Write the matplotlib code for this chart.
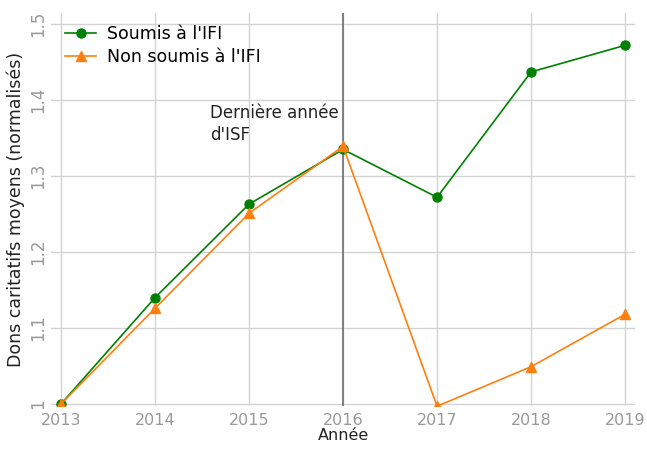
import matplotlib
matplotlib.use("Agg")
import matplotlib.pyplot as plt

years = [2013, 2014, 2015, 2016, 2017, 2018, 2019]
ifi = [1.0, 1.14, 1.263, 1.335, 1.272, 1.437, 1.472]
non_ifi = [1.0, 1.126, 1.251, 1.339, 0.997, 1.049, 1.118]
yticks = [1.0, 1.1, 1.2, 1.3, 1.4, 1.5]
ytick_labels = ["1", "1.1", "1.2", "1.3", "1.4", "1.5"]

fig = plt.figure(figsize=(6.47, 4.5), dpi=100)
ax = fig.add_axes([0.079, 0.098, 0.9025, 0.873])

ax.plot(years, ifi, color="green", marker="o", markersize=6.5, linewidth=1.2,
        label="Soumis à l'IFI", zorder=3)
ax.plot(years, non_ifi, color="#ff7f0e", marker="^", markersize=7, linewidth=1.2,
        label="Non soumis à l'IFI", zorder=3)

# last year of the wealth tax
ax.axvline(2016, color="#777777", linewidth=1.3, zorder=2)
ax.text(2014.585, 1.395, "Dernière année\nd'ISF", va="top", ha="left",
        fontsize=12, color="#222222", linespacing=1.3)

ax.set_xlim(2012.894, 2019.106)
ax.set_ylim(0.9974, 1.5145)
ax.set_xticks(years)
ax.set_yticks(yticks)
ax.set_yticklabels(ytick_labels, rotation=90, va="center")
ax.grid(True, color="#d3d3d3", linewidth=1)
ax.set_axisbelow(True)
for s in ax.spines.values():
    s.set_visible(False)
ax.tick_params(length=0, colors="#999999", labelsize=12)
ax.tick_params(axis="x", labelsize=11.5, pad=5)
ax.tick_params(axis="y", pad=3)

# the reference clips this label at the bottom edge; kept just inside here
ax.set_xlabel("Année", fontsize=11.5, color="#222222", labelpad=0)
ax.set_ylabel("Dons caritatifs moyens (normalisés)", fontsize=12.5,
              color="#222222", labelpad=3)

ax.legend(loc="upper left", bbox_to_anchor=(0.024, 0.969), frameon=False,
          fontsize=12.5, handlelength=1.8, handletextpad=0.6,
          borderaxespad=0, borderpad=0, labelspacing=0.28)

fig.savefig("out.png", dpi=100)
